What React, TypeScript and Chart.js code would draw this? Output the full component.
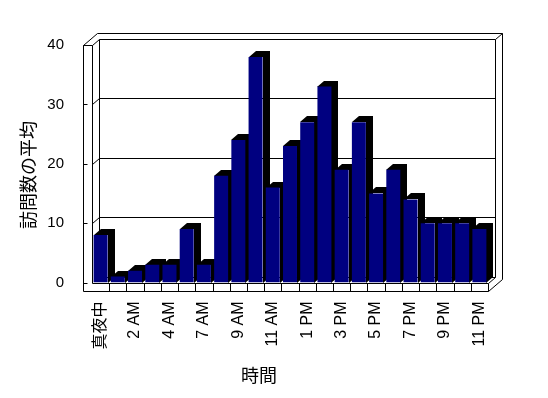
import React, { useEffect, useRef } from 'react';
import { Chart, registerables } from 'chart.js';

Chart.register(...registerables);

const hours = ['真夜中', '1 AM', '2 AM', '3 AM', '4 AM', '5 AM', '7 AM', '8 AM', '9 AM', '10 AM', '11 AM', '正午', '1 PM', '2 PM', '3 PM', '4 PM', '5 PM', '6 PM', '7 PM', '8 PM', '9 PM', '10 PM', '11 PM'];
const visits = [8, 1, 2, 3, 3, 9, 3, 18, 24, 38, 16, 23, 27, 33, 19, 27, 15, 19, 14, 10, 10, 10, 9];
const yTicks = [0, 10, 20, 30, 40];
const yTitle = '訪問数の平均';
const xTitle = '時間';

const W = 548;
const H = 398;
const PLOT_L = 92;
const PLOT_R = 488;
const PLOT_T = 45;
const PLOT_B = 282.5;
const DX = 7;
const DY = -6;
const WALL = 9;
const FLOOR = 8.5;
const NAVY = '#000080';
const CJK = "'Noto Sans CJK JP'";

const box3d = {
  id: 'box3d',
  beforeDatasetsDraw(chart: any) {
    const ctx = chart.ctx as CanvasRenderingContext2D;
    const { left: L, right: R } = chart.chartArea;
    const ys = chart.scales.y;
    const xs = chart.scales.x;
    const T = ys.getPixelForValue(yTicks[yTicks.length - 1]);
    const B = ys.getPixelForValue(yTicks[0]);
    const OL = L - WALL;
    ctx.save();
    ctx.strokeStyle = '#000';
    ctx.lineWidth = 1;
    const ln = (x1: number, y1: number, x2: number, y2: number) => {
      ctx.beginPath();
      ctx.moveTo(Math.round(x1) + 0.5, Math.round(y1) + 0.5);
      ctx.lineTo(Math.round(x2) + 0.5, Math.round(y2) + 0.5);
      ctx.stroke();
    };
    // back wall inner face
    ln(L + DX, T + DY, R + DX, T + DY);
    ln(R + DX, T + DY, R + DX, B + DY);
    ln(L + DX, T + DY, L + DX, B + DY);
    ln(L + DX, B + DY, R + DX, B + DY);
    // back wall outer
    ln(OL + 2 * DX, T + 2 * DY, R + 2 * DX, T + 2 * DY);
    ln(R + 2 * DX, T + 2 * DY, R + 2 * DX, B + FLOOR + 2 * DY);
    ln(R + DX, T + DY, R + 2 * DX, T + 2 * DY);
    // left wall
    ln(OL, T, OL, B + FLOOR);
    ln(L, T, L, B);
    ln(OL, T, L, T);
    ln(OL, T, OL + 2 * DX, T + 2 * DY);
    ln(L, T, L + DX, T + DY);
    // floor
    ln(L, B, R, B);
    ln(OL, B + FLOOR, R, B + FLOOR);
    ln(R, B, R, B + FLOOR);
    ln(R, B, R + DX, B + DY);
    ln(R, B + FLOOR, R + 2 * DX, B + FLOOR + 2 * DY);
    for (let i = 1; i < hours.length; i++) {
      const x = (xs.getPixelForValue(i - 1) + xs.getPixelForValue(i)) / 2;
      ln(x, B, x, B + FLOOR);
    }
    // gridlines + ticks
    for (const v of yTicks) {
      const y = ys.getPixelForValue(v);
      if (v > yTicks[0] && v < yTicks[yTicks.length - 1]) {
        ln(L + DX, y + DY, R + DX, y + DY);
        ln(L, y, L + DX, y + DY);
      }
      ln(OL, y, OL + 4, y);
    }
    // bar side / top faces (drawn left to right, fronts drawn later by Chart.js)
    const meta = chart.getDatasetMeta(0);
    ctx.fillStyle = '#000';
    for (const el of meta.data) {
      const p = el.getProps(['x', 'y', 'base', 'width'], true);
      const l = Math.round(p.x - p.width / 2);
      const r = Math.round(p.x + p.width / 2);
      const top = Math.round(p.y);
      const base = Math.round(p.base);
      ctx.beginPath();
      ctx.moveTo(l, top);
      ctx.lineTo(l + DX, top + DY);
      ctx.lineTo(r + DX, top + DY);
      ctx.lineTo(r + DX, base + DY);
      ctx.lineTo(r, base);
      ctx.lineTo(r, top);
      ctx.closePath();
      ctx.fill();
    }
    ctx.restore();
  },
  afterDraw(chart: any) {
    const ctx = chart.ctx as CanvasRenderingContext2D;
    ctx.save();
    ctx.fillStyle = '#000';
    ctx.font = `18px ${CJK}`;
    ctx.textAlign = 'center';
    ctx.textBaseline = 'middle';
    ctx.fillText(xTitle, 259, 375);
    ctx.translate(28, 175);
    ctx.rotate(-Math.PI / 2);
    ctx.fillText(yTitle, 0, 0);
    ctx.restore();
  },
};

export default function App() {
  const ref = useRef<HTMLCanvasElement | null>(null);
  useEffect(() => {
    document.body.style.margin = '0';
    const canvas = ref.current;
    if (!canvas) return;
    const chart = new Chart(canvas, {
      type: 'bar',
      data: {
        labels: hours,
        datasets: [
          {
            data: visits,
            backgroundColor: NAVY,
            borderWidth: 0,
            categoryPercentage: 1,
            barPercentage: 0.8125,
          },
        ],
      },
      options: {
        responsive: false,
        animation: false,
        devicePixelRatio: 1,
        layout: { padding: { left: 0, top: PLOT_T, right: W - PLOT_R, bottom: 0 } },
        plugins: { legend: { display: false }, tooltip: { enabled: false }, title: { display: false } },
        scales: {
          x: {
            grid: { display: false, drawTicks: false },
            border: { display: false },
            afterFit: (s: any) => {
              s.height = H - PLOT_B;
            },
            ticks: {
              autoSkip: false,
              minRotation: 90,
              maxRotation: 90,
              padding: 19,
              color: '#000',
              font: { family: `'Liberation Sans', Arial, ${CJK}`, size: 16 },
              callback: (_v: any, i: number) => (i % 2 === 0 ? hours[i] : ''),
            },
          },
          y: {
            min: yTicks[0],
            max: yTicks[yTicks.length - 1],
            grid: { display: false, drawTicks: false },
            border: { display: false },
            afterFit: (s: any) => {
              s.width = PLOT_L;
            },
            ticks: {
              stepSize: 10,
              padding: 28,
              color: '#000',
              font: { family: `'Liberation Sans', Arial`, size: 15 },
            },
          },
        },
      },
      plugins: [box3d],
    });
    return () => chart.destroy();
  }, []);
  return (
    <div style={{ width: W, height: H, background: '#fff' }}>
      <canvas ref={ref} width={W} height={H} style={{ display: 'block' }} />
    </div>
  );
}
